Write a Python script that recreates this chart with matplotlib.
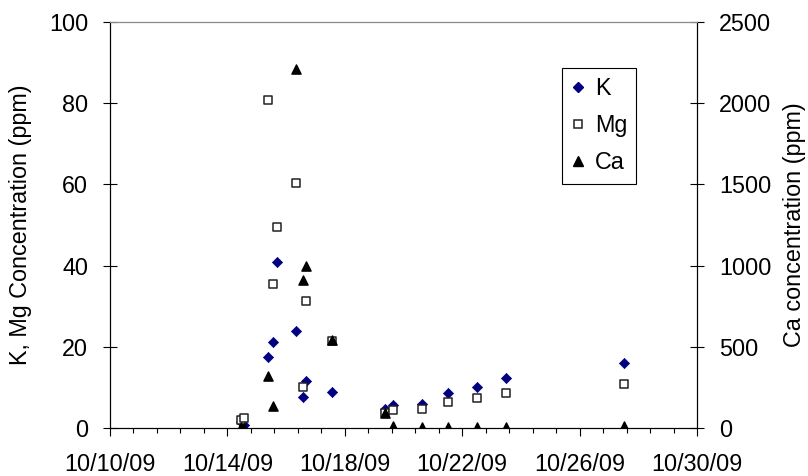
import numpy as np
import pandas as pd
import matplotlib
matplotlib.use('Agg')
import matplotlib.pyplot as plt
import matplotlib.dates as mdates
from matplotlib.lines import Line2D

plt.rcParams['font.family'] = ['Liberation Sans', 'DejaVu Sans']

# Sampling times
times = pd.to_datetime([
    '2009-10-14 10:48', '2009-10-14 13:55', '2009-10-15 08:53', '2009-10-15 13:26',
    '2009-10-15 16:48', '2009-10-16 08:10', '2009-10-16 13:55', '2009-10-16 16:05',
    '2009-10-17 13:12', '2009-10-19 08:53', '2009-10-19 15:07', '2009-10-20 15:22',
    '2009-10-21 12:29', '2009-10-22 12:14', '2009-10-23 11:31', '2009-10-27 12:00',
])

# Concentrations (ppm)
k_vals = [1.5, 0.8, 17.6, 21.2, 40.9, 24.0, 7.6, 11.6, 8.9, 4.6, 5.7, 6.0, 8.5, 10.2, 12.2, 15.9]
mg_vals = [2.0, 2.4, 80.8, 35.5, 49.4, 60.4, 10.2, 31.4, 21.4, 3.8, 4.4, 4.7, 6.4, 7.5, 8.7, 10.8]
ca_vals = [8, 2, 322, 137, np.nan, 2211, 911, 998, 542, 95, 15, 5, 5, 5, 5, 10]

major_ticks = pd.date_range('2009-10-10', '2009-10-30', freq='4D')
minor_ticks = pd.date_range('2009-10-10', '2009-10-30', freq='1152min')

FS = 16.8
K_COLOR = '#000080'

fig = plt.figure(figsize=(8.08, 4.76), dpi=100)
ax = fig.add_axes([110 / 808, 48 / 476, 587 / 808, 406 / 476])
ax2 = ax.twinx()

ax.scatter(times, k_vals, marker='D', s=27, color=K_COLOR, edgecolors=K_COLOR,
           linewidths=0.5, zorder=3)
ax.scatter(times, mg_vals, marker='s', s=32, facecolors='white', edgecolors='#222222',
           linewidths=1.1, zorder=4)
ax2.scatter(times, ca_vals, marker='^', s=44, color='black', zorder=5)

ax.set_xlim(pd.Timestamp('2009-10-10'), pd.Timestamp('2009-10-30'))
ax.set_ylim(0, 100)
ax2.set_ylim(0, 2500)
ax.set_yticks(np.arange(0, 101, 20))
ax2.set_yticks(np.arange(0, 2501, 500))

ax.set_xticks(major_ticks)
ax.set_xticks(minor_ticks, minor=True)
ax.xaxis.set_major_formatter(mdates.DateFormatter('%m/%d/%y'))

for a in (ax, ax2):
    a.tick_params(axis='y', direction='inout', length=9.4, width=0.8, labelsize=FS, pad=11)
    for side in ('left', 'right', 'bottom'):
        a.spines[side].set_linewidth(0.8)
        a.spines[side].set_color('black')
    a.spines['top'].set_color('#888888')
    a.spines['top'].set_linewidth(0.8)
ax.tick_params(axis='x', which='major', direction='out', length=6, width=0.8,
               labelsize=FS, pad=12)
ax.tick_params(axis='x', which='minor', direction='out', length=3.8, width=0.8)

ax.set_ylabel('K, Mg Concentration (ppm)', fontsize=FS)
ax.yaxis.set_label_coords(-0.133, 0.5)
ax2.set_ylabel('Ca concentration (ppm)', fontsize=FS, rotation=90)
ax2.yaxis.set_label_coords(1.1465, 0.5)

handles = [
    Line2D([], [], ls='none', marker='D', ms=4.8, color=K_COLOR),
    Line2D([], [], ls='none', marker='s', ms=5.5, mfc='white', mec='#222222', mew=1.1),
    Line2D([], [], ls='none', marker='^', ms=6.5, color='black'),
]
leg = ax2.legend(handles, ['K', 'Mg', 'Ca'], loc='upper left',
                 bbox_to_anchor=(0.770, 0.887), borderaxespad=0, fontsize=FS,
                 frameon=True, fancybox=False, framealpha=1, edgecolor='black',
                 handlelength=0.6, handletextpad=0.4, borderpad=0.4, labelspacing=0.6)
leg.get_frame().set_linewidth(0.8)

fig.savefig('out.png', dpi=100)
